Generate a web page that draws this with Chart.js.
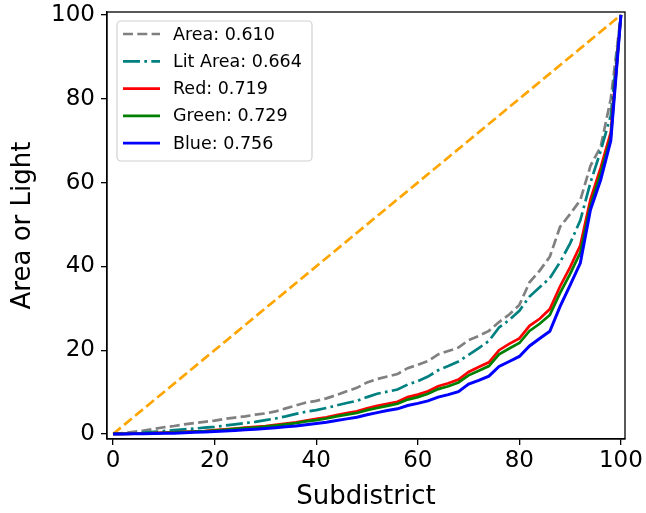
<!DOCTYPE html>
<html>
<head>
<meta charset="utf-8">
<script src="https://cdn.jsdelivr.net/npm/chart.js@4.4.1/dist/chart.umd.min.js"></script>
<style>
  html, body { margin: 0; padding: 0; background: #fff; }
  canvas { display: block; }
</style>
</head>
<body>
<canvas id="lorenzChart" width="646" height="513"></canvas>
<script>
// cumulative share (%) by subdistrict percentile
const subdistrict = [0, 2, 4, 6, 8, 10, 12, 14, 16, 18, 20, 22, 24, 26, 28, 30, 32, 34, 36, 38, 40,
  42, 44, 46, 48, 50, 52, 54, 56, 58, 60, 62, 64, 66, 68, 70, 72, 74, 76, 78, 80,
  82, 84, 86, 88, 90, 92, 94, 96, 98, 100];

const area = [0, 0.2, 0.5, 0.8, 1.2, 1.6, 1.9, 2.3, 2.6, 2.9, 3.2, 3.6, 3.9, 4.2, 4.6, 4.9, 5.4, 6.1, 6.8, 7.5, 7.9,
  8.5, 9.3, 10.2, 11.0, 12.3, 13.1, 13.7, 14.3, 15.7, 16.5, 17.4, 19.0, 19.8, 20.6, 22.4, 23.4, 24.6, 26.7, 28.5, 30.8,
  36.2, 39.0, 42.3, 49.4, 52.5, 55.8, 64.0, 68.5, 80.0, 100];
const litArea = [0, 0.05, 0.15, 0.3, 0.5, 0.7, 0.9, 1.1, 1.3, 1.5, 1.7, 2.0, 2.3, 2.6, 2.9, 3.3, 3.7, 4.2, 4.8, 5.3, 5.7,
  6.2, 6.8, 7.4, 7.9, 8.8, 9.6, 10.1, 10.6, 11.8, 12.6, 13.7, 15.2, 16.2, 17.3, 18.9, 20.5, 22.2, 25.4, 27.2, 29.4,
  32.8, 35.0, 37.2, 41.0, 45.5, 51.0, 60.0, 67.5, 76.0, 100];
const red = [0, 0.02, 0.05, 0.1, 0.2, 0.3, 0.4, 0.5, 0.6, 0.7, 0.9, 1.1, 1.3, 1.5, 1.7, 1.9, 2.2, 2.5, 2.8, 3.2, 3.6,
  4.0, 4.5, 5.0, 5.4, 6.1, 6.7, 7.2, 7.7, 8.8, 9.4, 10.2, 11.4, 12.1, 13.0, 14.8, 16.0, 17.1, 20.0, 21.5, 22.8,
  25.8, 27.5, 29.8, 35.2, 39.8, 45.0, 56.0, 63.5, 72.0, 100];
const green = [0, 0.02, 0.05, 0.1, 0.15, 0.25, 0.35, 0.45, 0.55, 0.65, 0.8, 1.0, 1.2, 1.4, 1.55, 1.75, 2.0, 2.3, 2.6, 3.0, 3.3,
  3.7, 4.2, 4.6, 5.0, 5.7, 6.2, 6.7, 7.2, 8.2, 8.8, 9.6, 10.7, 11.4, 12.3, 14.0, 15.1, 16.2, 19.0, 20.4, 21.7,
  24.6, 26.3, 28.4, 33.6, 38.2, 43.3, 54.5, 62.2, 70.8, 100];
const blue = [0, 0.01, 0.03, 0.06, 0.1, 0.15, 0.2, 0.3, 0.4, 0.5, 0.6, 0.7, 0.85, 1.0, 1.15, 1.3, 1.5, 1.7, 1.9, 2.2, 2.5,
  2.8, 3.2, 3.6, 4.0, 4.6, 5.1, 5.6, 6.0, 6.8, 7.3, 7.9, 8.8, 9.4, 10.1, 11.9, 12.8, 13.8, 16.1, 17.3, 18.5,
  21.0, 22.8, 24.5, 30.4, 35.5, 40.8, 53.5, 60.6, 70.0, 100];

const equalityX = [0, 100];
const equalityY = [0, 100];

const seriesLabels = ['Area: 0.610', 'Lit Area: 0.664', 'Red: 0.719', 'Green: 0.729', 'Blue: 0.756'];
const xTicks = [0, 20, 40, 60, 80, 100];
const yTicks = [0, 20, 40, 60, 80, 100];

const FONT = "'DejaVu Sans', sans-serif";
const LW = 2.7;
const DASH = [10, 4.3];
const DASHDOT = [17, 4.3, 2.7, 4.3];

function pts(xs, ys) {
  return xs.map((x, i) => ({ x: x, y: ys[i] }));
}

// matplotlib-like frame and legend box inside the axes
const framePlugin = {
  id: 'frame',
  afterDatasetsDraw(chart) {
    const { ctx, chartArea: a } = chart;
    ctx.save();
    ctx.strokeStyle = '#000';
    ctx.lineWidth = 1.3;
    ctx.strokeRect(a.left, a.top, a.right - a.left, a.bottom - a.top);

    // legend
    const bx = 117, by = 21, bw = 195, bh = 140, r = 4;
    ctx.beginPath();
    ctx.moveTo(bx + r, by);
    ctx.arcTo(bx + bw, by, bx + bw, by + bh, r);
    ctx.arcTo(bx + bw, by + bh, bx, by + bh, r);
    ctx.arcTo(bx, by + bh, bx, by, r);
    ctx.arcTo(bx, by, bx + bw, by, r);
    ctx.closePath();
    ctx.fillStyle = 'rgba(255,255,255,0.8)';
    ctx.fill();
    ctx.strokeStyle = '#d0d0d0';
    ctx.lineWidth = 1.2;
    ctx.stroke();

    ctx.font = '17.5px ' + FONT;
    ctx.textBaseline = 'middle';
    ctx.textAlign = 'left';
    chart.data.datasets.forEach((ds) => {
      if (!ds.inLegend) return;
      const y = 34 + ds.legendRow * 27.3;
      ctx.beginPath();
      ctx.setLineDash(ds.borderDash || []);
      ctx.strokeStyle = ds.borderColor;
      ctx.lineWidth = LW;
      ctx.moveTo(123, y);
      ctx.lineTo(160, y);
      ctx.stroke();
      ctx.setLineDash([]);
      ctx.fillStyle = '#000';
      ctx.fillText(ds.label, 173, y + 1);
    });
    ctx.restore();
  }
};

new Chart(document.getElementById('lorenzChart'), {
  type: 'line',
  data: {
    datasets: [
      { label: seriesLabels[0], data: pts(subdistrict, area), borderColor: '#808080', borderWidth: LW,
        borderDash: DASH, order: 5, inLegend: true, legendRow: 0 },
      { label: seriesLabels[1], data: pts(subdistrict, litArea), borderColor: '#008080', borderWidth: LW,
        borderDash: DASHDOT, order: 4, inLegend: true, legendRow: 1 },
      { label: seriesLabels[2], data: pts(subdistrict, red), borderColor: '#ff0000', borderWidth: LW,
        order: 3, inLegend: true, legendRow: 2 },
      { label: seriesLabels[3], data: pts(subdistrict, green), borderColor: '#008000', borderWidth: LW,
        order: 2, inLegend: true, legendRow: 3 },
      { label: seriesLabels[4], data: pts(subdistrict, blue), borderColor: '#0000ff', borderWidth: 3,
        order: 1, inLegend: true, legendRow: 4 },
      { label: 'equality', data: pts(equalityX, equalityY), borderColor: '#ffa500', borderWidth: LW,
        borderDash: DASH, order: 6, inLegend: false }
    ]
  },
  options: {
    responsive: false,
    animation: false,
    devicePixelRatio: 1,
    elements: { point: { radius: 0 }, line: { tension: 0, fill: false } },
    layout: { padding: { left: 0, right: 21, top: 12, bottom: 0 } },
    plugins: { legend: { display: false }, tooltip: { enabled: false } },
    scales: {
      x: {
        type: 'linear',
        min: -1.2,
        max: 100.8,
        afterBuildTicks: (s) => { s.ticks = xTicks.map(v => ({ value: v })); },
        afterFit: (s) => { s.height = 74; s.paddingLeft = 0; s.paddingRight = 0; },
        grid: { drawOnChartArea: false, drawTicks: true, tickLength: 6, color: '#000', lineWidth: 1.3 },
        border: { display: true, color: '#000', width: 1.3 },
        ticks: { color: '#000', font: { family: FONT, size: 23 }, padding: 2, maxRotation: 0 },
        title: { display: true, text: 'Subdistrict', color: '#000', font: { family: FONT, size: 26 },
          padding: { top: 0, bottom: 0 } }
      },
      y: {
        type: 'linear',
        min: -1.2,
        max: 100.7,
        afterBuildTicks: (s) => { s.ticks = yTicks.map(v => ({ value: v })); },
        afterFit: (s) => { s.width = 107; s.paddingTop = 0; s.paddingBottom = 0; },
        grid: { drawOnChartArea: false, drawTicks: true, tickLength: 6, color: '#000', lineWidth: 1.3 },
        border: { display: true, color: '#000', width: 1.3 },
        ticks: { color: '#000', font: { family: FONT, size: 23 }, padding: 6 },
        title: { display: true, text: 'Area or Light', color: '#000', font: { family: FONT, size: 26 },
          padding: { top: 8, bottom: 0 } }
      }
    }
  },
  plugins: [framePlugin]
});
</script>
</body>
</html>
